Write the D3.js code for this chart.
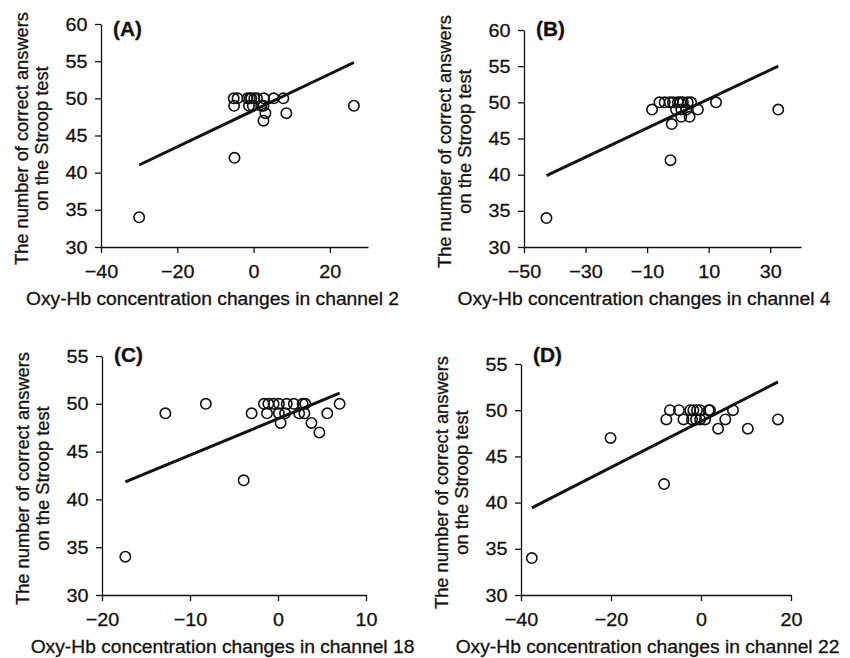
<!DOCTYPE html>
<html>
<head>
<meta charset="utf-8">
<script src="https://cdn.jsdelivr.net/npm/d3@7"></script>
<style>
  body { margin: 0; background: #fff; }
  svg { display: block; font-family: "Liberation Sans", Arial, sans-serif; }
  svg text { stroke: #111; stroke-width: 0.3px; }
</style>
</head>
<body>
<svg id="chart" width="850" height="658"></svg>
<script>
// --- data ---
const panelLabels = ["(A)", "(B)", "(C)", "(D)"];
const channels = [2, 4, 18, 22];

const xA = [-30, -5, -5.2, -4.2, -1.6, -1.0, -0.6, 0.2, 0.9, 2.7, 5.3, 7.8, -5.1, -1.2, -0.2, 2.0, 2.6, 26.3, 3.1, 8.6, 2.6];
const yA = [34, 42, 50, 50, 50, 50, 50, 50, 50, 50, 50, 50, 49, 49, 49, 49, 49, 49, 48, 48, 47];

const xB = [-42.7, -2.4, -6, -4.3, -2.7, -1.6, 0, 0.8, 1.6, 3.2, 4.3, 12.4, -8.4, -0.6, 1.1, 2.7, 6.5, 32.6, 1.1, 3.8, -2];
const yB = [34, 42, 50, 50, 50, 50, 50, 50, 50, 50, 50, 50, 49, 49, 49, 49, 49, 49, 48, 48, 47];

const xC = [-17.35, -3.9, -8.2, -1.6, -1.1, -0.5, 0.1, 1.0, 1.8, 2.8, 3.1, 7.0, -12.8, -3, -1.25, 0.1, 0.8, 2.4, 3.0, 5.6, 0.3, 3.8, 4.7];
const yC = [34, 42, 50, 50, 50, 50, 50, 50, 50, 50, 50, 50, 49, 49, 49, 49, 49, 49, 49, 49, 48, 48, 47];

const xD = [-37.6, -8.2, -20.1, -6.9, -4.9, -2.4, -1.7, -0.9, -0.2, 1.7, 2.0, 7.1, -7.7, -3.9, -2.0, -1.1, -0.2, 0.9, 5.4, 17.1, 3.8, 10.4];
const yD = [34, 42, 47, 50, 50, 50, 50, 50, 50, 50, 50, 50, 49, 49, 49, 49, 49, 49, 49, 49, 48, 48];

// regression lines (intercept, slope)
const fitIntercept = [48.38, 48.44, 48.44, 48.8];
const fitSlope = [0.245, 0.201, 0.381, 0.249];

const xDomains = [[-40, 30], [-50, 40], [-20, 10], [-40, 20]];
const xTickValues = [[-40, -20, 0, 20], [-50, -30, -10, 10, 30], [-20, -10, 0, 10], [-40, -20, 0, 20]];
const yDomains = [[30, 60], [30, 60], [30, 55], [30, 55]];

const xs = [xA, xB, xC, xD];
const ys = [yA, yB, yC, yD];

// --- layout ---
const boxes = [
  { left: 101, right: 368, top: 24, bottom: 247, titleX: 212.5 },
  { left: 524, right: 801, top: 30, bottom: 247, titleX: 644 },
  { left: 102, right: 366, top: 356, bottom: 595, titleX: 222.5 },
  { left: 521, right: 791, top: 364, bottom: 595, titleX: 647.5 }
];
const ink = "#111";
const stretch = 1.04;

const svg = d3.select("#chart");

boxes.forEach((b, i) => {
  const x = d3.scaleLinear().domain(xDomains[i]).range([b.left, b.right]);
  const y = d3.scaleLinear().domain(yDomains[i]).range([b.bottom, b.top]);
  const g = svg.append("g");

  // y axis
  const yTicks = d3.range(yDomains[i][0], yDomains[i][1] + 1, 5);
  const yAxis = g.append("g")
    .attr("transform", `translate(${b.left},0)`)
    .call(d3.axisLeft(y).tickValues(yTicks).tickSize(6).tickSizeOuter(0).tickPadding(7));

  // x axis
  const xAxis = g.append("g")
    .attr("transform", `translate(0,${b.bottom})`)
    .call(d3.axisBottom(x).tickValues(xTickValues[i]).tickSize(6).tickSizeOuter(0).tickPadding(12));

  [yAxis, xAxis].forEach(ax => {
    ax.attr("font-family", null);
    ax.select(".domain").attr("stroke", ink).attr("stroke-width", 1.3);
    ax.selectAll(".tick line").attr("stroke", ink).attr("stroke-width", 1.3);
    ax.selectAll(".tick text")
      .attr("fill", ink)
      .style("font-size", "19px")
      .attr("transform", `scale(${stretch},1)`);
  });

  // regression line
  const ext = d3.extent(xs[i]);
  g.append("line")
    .attr("x1", x(ext[0])).attr("y1", y(fitIntercept[i] + fitSlope[i] * ext[0]))
    .attr("x2", x(ext[1])).attr("y2", y(fitIntercept[i] + fitSlope[i] * ext[1]))
    .attr("stroke", ink).attr("stroke-width", 3);

  // points
  g.selectAll("circle")
    .data(d3.zip(xs[i], ys[i]))
    .join("circle")
    .attr("cx", d => x(d[0]))
    .attr("cy", d => y(d[1]))
    .attr("r", 5.2)
    .attr("fill", "none")
    .attr("stroke", ink)
    .attr("stroke-width", 1.6);

  // panel label
  g.append("text")
    .attr("transform", `translate(${b.left + 12},${b.top < 100 ? 36 : 362}) scale(${stretch},1)`)
    .attr("fill", ink)
    .style("font-size", "20px")
    .style("font-weight", "bold")
    .text(panelLabels[i]);

  // y title, two lines
  const cy = (b.top + b.bottom) / 2 + 3;
  const yt = g.append("text")
    .attr("transform", `translate(${b.left - 73},${cy}) rotate(-90)`)
    .attr("text-anchor", "middle")
    .attr("fill", ink)
    .style("font-size", "18.3px");
  yt.append("tspan").attr("x", 0).attr("y", 0).text("The number of correct answers");
  yt.append("tspan").attr("x", 0).attr("y", 19.5).text("on the Stroop test");

  // x title
  g.append("text")
    .attr("transform", `translate(${b.titleX},${b.bottom + 58}) scale(${stretch},1)`)
    .attr("text-anchor", "middle")
    .attr("fill", ink)
    .style("font-size", "18.5px")
    .text(`Oxy-Hb concentration changes in channel ${channels[i]}`);
});
</script>
</body>
</html>
